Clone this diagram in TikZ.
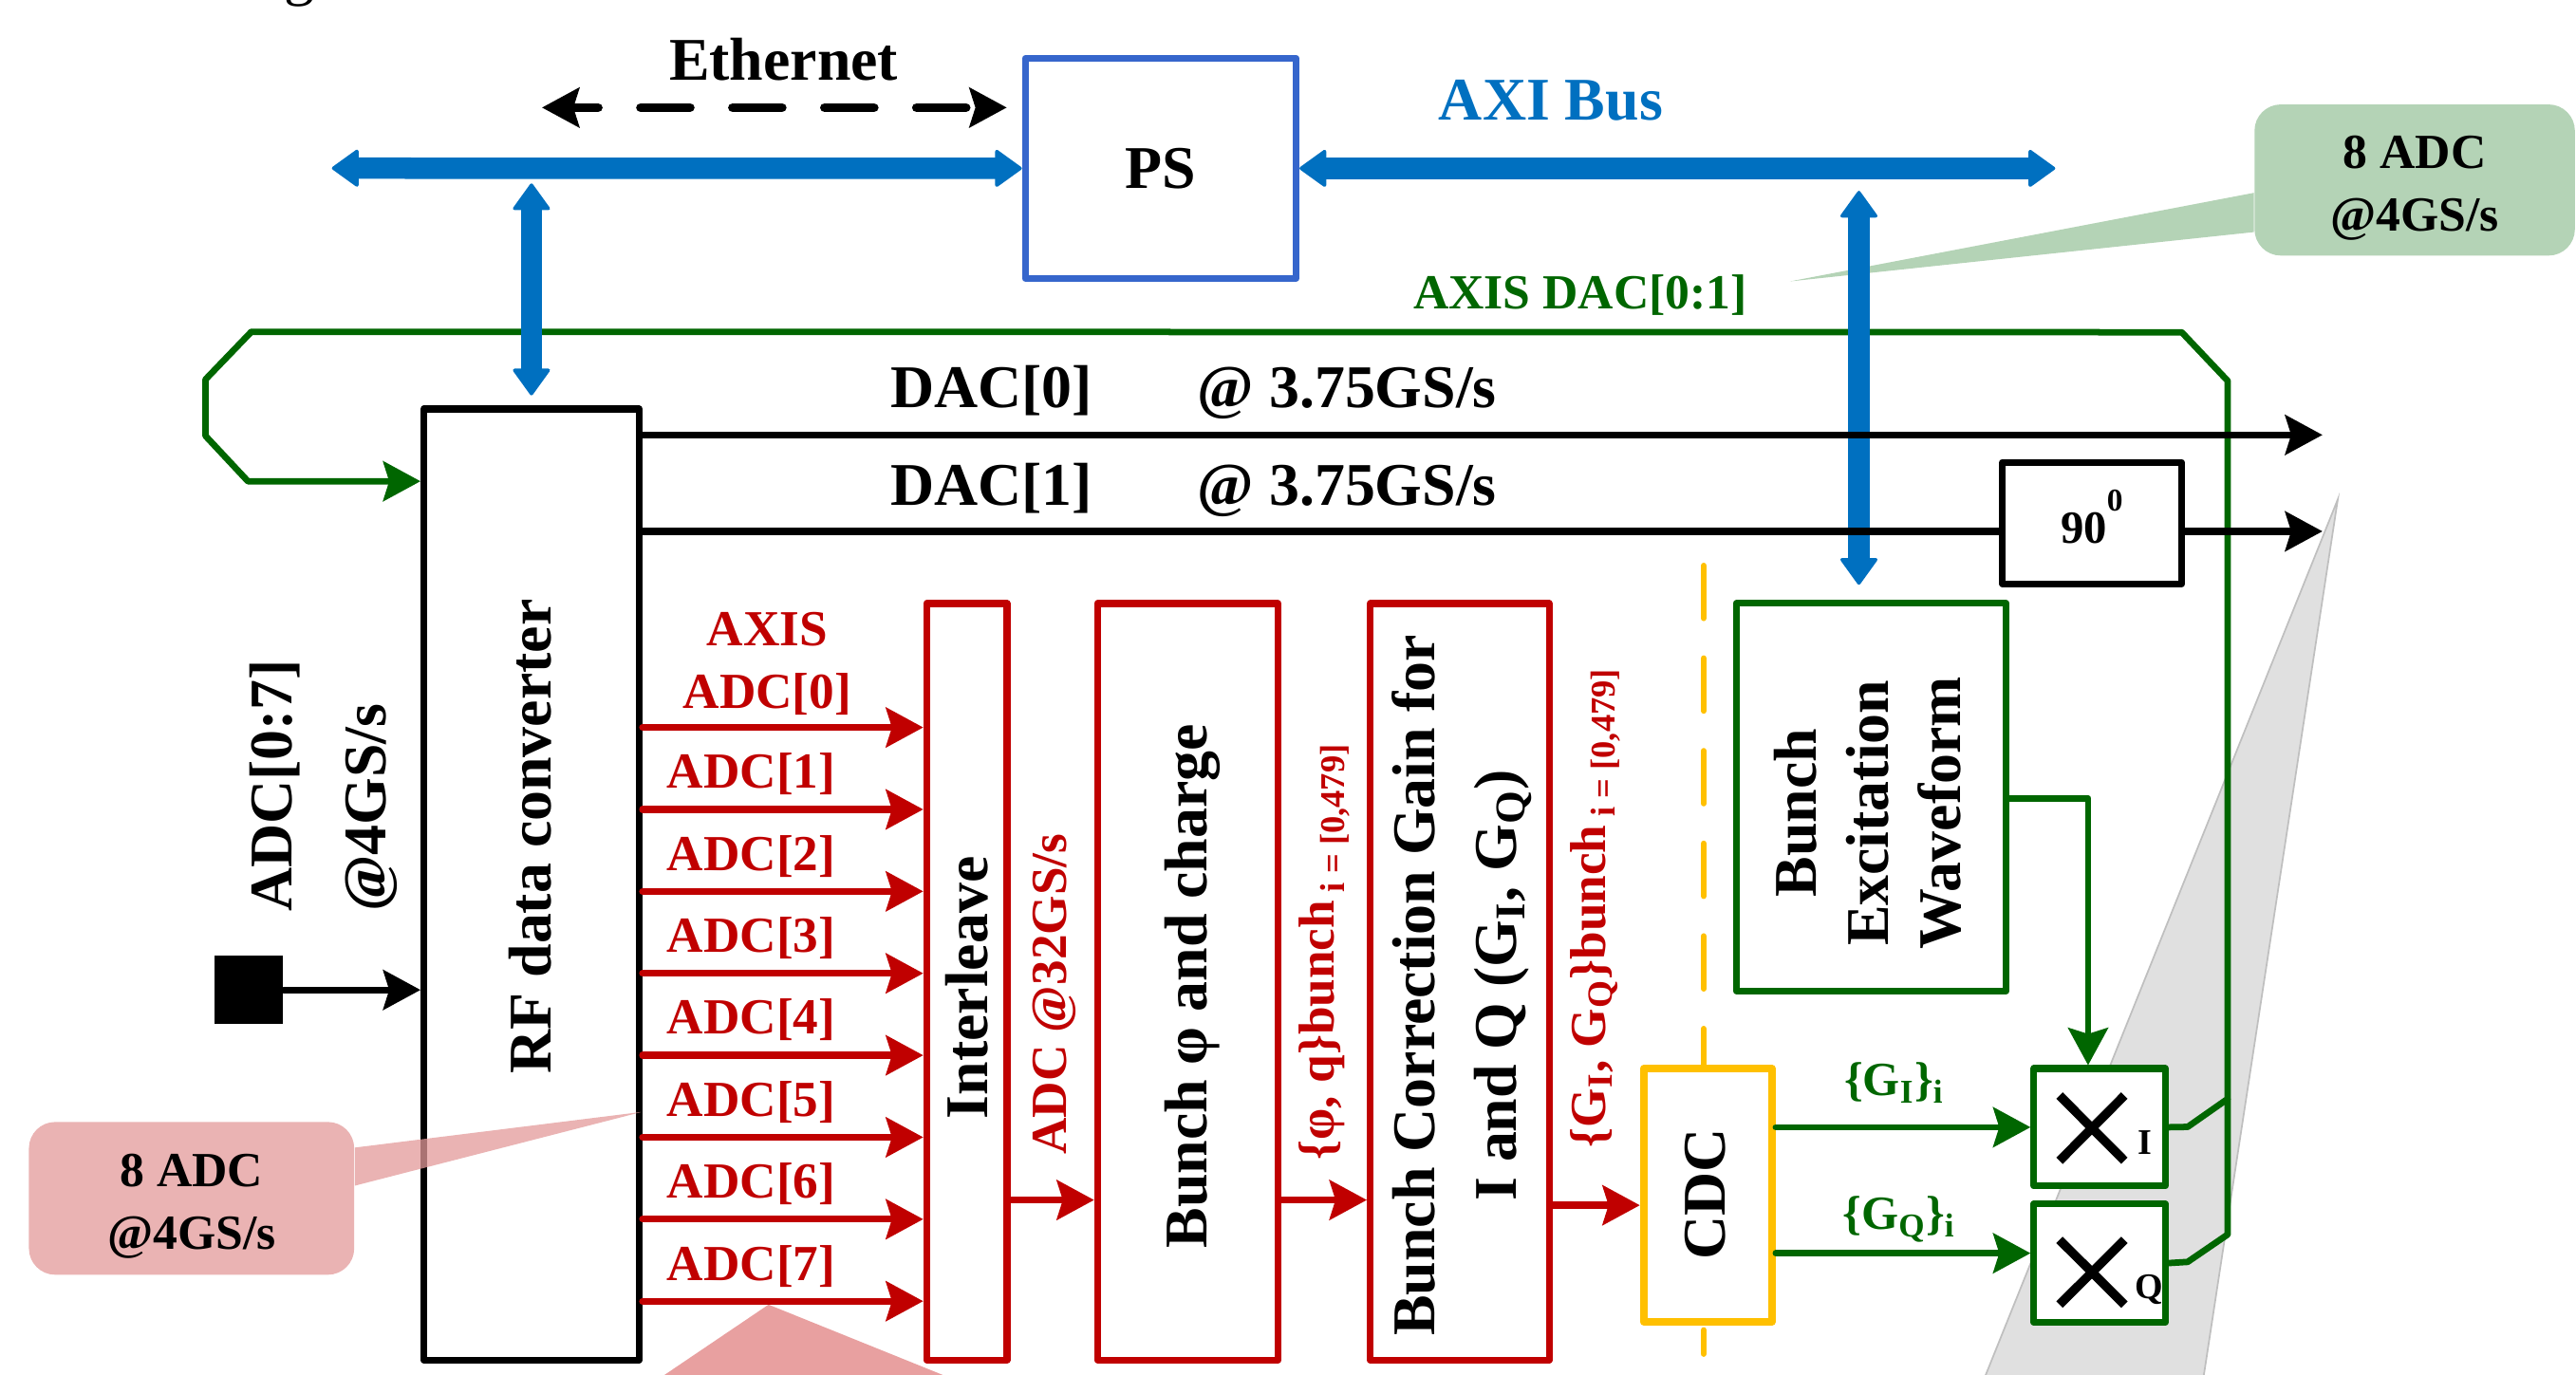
\documentclass[tikz,border=0pt]{standalone}
\usepackage{fontspec}
\setmainfont{Liberation Serif}
\usetikzlibrary{arrows.meta,calc}
\newlength\pxl
\setlength\pxl{0.02cm}
\newcommand\fsz[2]{\fontsize{#1}{#2}\selectfont}
\definecolor{redc}{RGB}{192,0,0}
\definecolor{grnc}{RGB}{0,102,0}
\definecolor{busc}{RGB}{0,112,192}
\definecolor{psc}{RGB}{54,102,204}
\definecolor{ylwc}{RGB}{255,192,0}
\definecolor{gcallc}{RGB}{180,211,182}
\definecolor{pcallc}{RGB}{234,179,179}
\definecolor{pptrc}{RGB}{227,154,154}
\definecolor{ptric}{RGB}{232,160,160}
\definecolor{grayf}{RGB}{224,224,224}
\definecolor{grayd}{RGB}{191,191,191}
\tikzset{
  txt/.style={inner sep=0pt, font=\bfseries\fsz{21}{25}},
  rtxt/.style={inner sep=0pt, text=redc, font=\bfseries\fsz{17.5}{21}},
  gtxt/.style={inner sep=0pt, text=grnc, font=\bfseries\fsz{16.5}{20}},
  rot/.style={rotate=90},
  blkbox/.style={draw=black, line width=4.2\pxl, fill=white, inner sep=0pt, line join=round},
  redbox/.style={blkbox, draw=redc},
  grnbox/.style={blkbox, draw=grnc},
  ylwbox/.style={blkbox, draw=ylwc, line width=4.8\pxl},
  psbox/.style={blkbox, draw=psc, line width=4\pxl},
  arr/.style={line width=4.2\pxl, line cap=round, -{Stealth[length=0.46cm,width=0.5cm,inset=0.08cm,line width=0pt]}},
  rarr/.style={arr, draw=redc},
  garr/.style={arr, draw=grnc, line width=3.9\pxl, line join=round},
  gline/.style={draw=grnc, line width=3.9\pxl, line join=round},
  barr/.style={arr, draw=black},
  bus/.style={draw=busc, line width=13\pxl, {Triangle[length=0.34cm,width=0.48cm,round,line width=0.04cm]}-{Triangle[length=0.34cm,width=0.48cm,round,line width=0.04cm]}},
  etharr/.style={draw=black, line width=5.6\pxl, line cap=round, dash pattern=on 0.6cm off 0.52cm, dash phase=0.3cm, {Stealth[length=0.46cm,width=0.5cm,inset=0.08cm,line width=0pt]}-{Stealth[length=0.46cm,width=0.5cm,inset=0.08cm,line width=0pt]}},
  ydash/.style={draw=ylwc, line width=3.6\pxl, line cap=round, dash pattern=on 0.64cm off 0.488cm},
  xmark/.style={draw=black, line width=5.5\pxl},
  callout/.style={inner sep=0pt, rounded corners=0.32cm},
  ctext/.style={inner sep=0pt, align=center, font=\bfseries\fsz{17}{21.8}},
}
\newcommand\subidx{\raisebox{-3.5pt}{\fsz{12}{14}i = [0,479]}}
\begin{document}
\begin{tikzpicture}[x=0.02cm, y=-0.02cm]
\useasboundingbox (0,0) rectangle (1568,837);
% background callout pointers
\fill[grayf, draw=grayd, line width=1\pxl] (1423,304) -- (1203.5,850) -- (1339.5,850) -- cycle;
\fill[ptric] (467.8,794.3) -- (385.4,850) -- (605.8,850) -- cycle;
\node[font=\fsz{21}{25}, anchor=base, inner sep=0pt] (gfrag) at (182,-3.8) {g};
% green callout
\node[callout, fill=gcallc, minimum width=195\pxl, minimum height=92\pxl] (gc) at (1469.8,109.6) {};
\fill[gcallc] (gc.west |- 0,117.4) -- (1089.6,171.3) -- (gc.west |- 0,141.3) -- cycle;
\node[ctext] (gcT) at (1469.8,114.5) {8 ADC\\@4GS/s};
% boxes
\node[psbox, minimum width=165\pxl, minimum height=134\pxl, font=\bfseries\fsz{21}{25}] (ps) at (706.5,102.5) {PS};
\node[blkbox, minimum width=131\pxl, minimum height=579\pxl] (rf) at (323.5,538.5) {};
\node[redbox, minimum width=49\pxl, minimum height=460.5\pxl] (il) at (588.5,597.75) {};
\node[redbox, minimum width=110\pxl, minimum height=460.5\pxl] (bq) at (723,597.75) {};
\node[redbox, minimum width=109\pxl, minimum height=460.5\pxl] (bc) at (888.5,597.75) {};
\node[ylwbox, minimum width=78\pxl, minimum height=154\pxl] (cdc) at (1039.5,727.65) {};
\node[grnbox, minimum width=164\pxl, minimum height=236\pxl] (ex) at (1139,485.35) {};
\node[grnbox, minimum width=80\pxl, minimum height=71.4\pxl] (mi) at (1278,686.3) {};
\node[grnbox, minimum width=80\pxl, minimum height=72\pxl] (mq) at (1278,769) {};
\node[blkbox, minimum width=109\pxl, minimum height=74\pxl] (p90) at (1273.4,318.5) {};
\node[fill=black, minimum width=41.6\pxl, minimum height=41.4\pxl, inner sep=0pt] (sq) at (151.6,602.7) {};
% yellow dashed clock-domain line
\coordinate (ydTop) at (1037,344.4);
\coordinate (ydB1) at (1037,809.8);
\coordinate (ydB2) at (1037,824.3);
\draw[ydash] (ydTop) -- (ydTop |- cdc.north);
\draw[draw=ylwc, line width=3.6\pxl, line cap=round] (ydB1) -- (ydB2);
% green DAC loop
\draw[garr] (mi.east) -- (1331.6,686.1) -- (1356,669) -- (1356,231.9) -- (1328,202.3) -- (153,202) -- (125.1,231) -- (125.1,265.4) -- (150.9,293) -- (rf.west |- 0,293);
\draw[gline] (mq.east) -- (1331.6,768.3) -- (1356,751.6) -- (1356,669);
% buses
\coordinate (busL) at (202,102.4);
\coordinate (busR) at (1251,102.5);
\coordinate (vbT1) at (323.5,111.7);
\coordinate (vbB1) at (323.5,240.7);
\coordinate (vbT2) at (1131.5,116.2);
\coordinate (vbB2) at (1131.5,356);
\draw[bus] (busL) -- (ps.west);
\draw[bus] (ps.east) -- (busR);
\draw[bus] (vbT1) -- (vbB1);
\draw[bus] (vbT2) -- (vbB2);
% ethernet
\coordinate (ethL) at (330,65.5);
\coordinate (ethR) at (612.7,65.5);
\draw[etharr] (ethL) -- (ethR);
% DAC outputs
\coordinate (dac0end) at (1413.6,264.8);
\coordinate (dac1end) at (1413.6,323.5);
\draw[barr] (rf.east |- dac0end) -- (dac0end);
\draw[line width=4.2\pxl, draw=black] (rf.east |- dac1end) -- (p90.west |- dac1end);
\draw[barr] (p90.east |- dac1end) -- (dac1end);
% ADC input
\draw[barr] (sq.east) -- (rf.west |- sq.east);
% red ADC arrows
\foreach \i in {0,...,7}{
  \pgfmathsetmacro\yy{442.9+49.9*\i}
  \draw[rarr] (rf.east |- 0,\yy) -- (il.west |- 0,\yy);
}
\draw[rarr] (il.east |- 0,730.6) -- (bq.west |- 0,730.6);
\draw[rarr] (bq.east |- 0,730.6) -- (bc.west |- 0,730.6);
\draw[rarr] (bc.east |- 0,733.8) -- (cdc.west |- 0,733.8);
% green arrows
\draw[garr] (cdc.east |- mi.west) -- (mi.west);
\draw[garr] (cdc.east |- 0,763) -- (mq.west |- 0,763);
\draw[garr] (ex.east |- 0,486) -| (mi.north -| 1271,0);
% multiplier marks
\draw[xmark] ($(mi.center)+(-24.4,-19.3)$) -- ($(mi.center)+(15.1,20.4)$);
\draw[xmark] ($(mi.center)+(-24.4,20.4)$) -- ($(mi.center)+(15.1,-19.3)$);
\draw[xmark] ($(mq.center)+(-24.4,-14.1)$) -- ($(mq.center)+(15.1,25.3)$);
\draw[xmark] ($(mq.center)+(-24.4,25.3)$) -- ($(mq.center)+(15.1,-14.1)$);
\node[inner sep=0pt, font=\bfseries\fsz{12.5}{14}, anchor=base] (iT) at (1305.6,702.9) {I};
\node[inner sep=0pt, font=\bfseries\fsz{12.5}{14}, anchor=base] (qT) at (1308,790.9) {Q};
% labels
\node[inner sep=0pt, font=\bfseries\fsz{16}{20}, anchor=base] (p90T) at (1273.3,331) {90\raisebox{11.4pt}{\fsz{11}{13}0}};
\node[txt, anchor=base] (eth) at (477,49) {Ethernet};
\node[txt, anchor=base, text=busc] (axi) at (944,73) {AXI Bus};
\node[gtxt, font=\bfseries\fsz{17}{20}, anchor=base] (axisdac) at (962,188) {AXIS DAC[0:1]};
\node[txt, anchor=base] (dac0) at (603.4,248.4) {DAC[0]};
\node[txt, anchor=base] (rate0) at (820,248.4) {@ 3.75GS/s};
\node[txt, anchor=base] (dac1) at (603.4,307.7) {DAC[1]};
\node[txt, anchor=base] (rate1) at (820,307.7) {@ 3.75GS/s};
\node[txt, rot, align=left, font=\bfseries\fsz{21}{32.4}] (adcin) at (197,478.3) {ADC[0:7]\\@4GS/s};
\node[txt, rot] (rfT) at (323,509.3) {RF data converter};
\node[rtxt, anchor=base] (axisT) at (467,393) {AXIS};
\node[rtxt, anchor=base] (adc0) at (467,431.5) {ADC[0]};
\foreach \i in {1,...,7}{
  \pgfmathsetmacro\yb{442.9+49.9*\i-12.8}
  \node[rtxt, anchor=base] (adc\i) at (457.3,\yb) {ADC[\i]};
}
\node[txt, rot] (ilT) at (588.6,601.3) {Interleave};
\node[rtxt, rot] (adc32) at (641.7,605.3) {ADC @32GS/s};
\node[txt, rot] (bqT) at (725.6,600.4) {Bunch φ and charge};
\node[rtxt, rot] (phiq) at (806,579.7) {\{φ, q\}bunch\,\subidx};
\node[txt, rot, align=center, font=\bfseries\fsz{21}{28.3}] (bcT) at (889.7,600) {Bunch Correction Gain for\\I and Q (G\textsubscript{I}, G\textsubscript{Q})};
\node[rtxt, rot] (gigq) at (971,553) {\{G\textsubscript{I}, G\textsubscript{Q}\}bunch\,\subidx};
\node[txt, rot] (cdcT) at (1038,727) {CDC};
\node[txt, rot, align=center, font=\bfseries\fsz{21}{25}] (exT) at (1137,495) {Bunch\\Excitation\\Waveform};
\node[gtxt, anchor=base] (giT) at (1153,667) {\{G\textsubscript{I}\}\textsubscript{i}};
\node[gtxt, anchor=base] (gqT) at (1156,748.4) {\{G\textsubscript{Q}\}\textsubscript{i}};
% pink callout on top
\node[callout, fill=pcallc, minimum width=198\pxl, minimum height=93\pxl] (pc) at (116.6,729.6) {};
\fill[pptrc, fill opacity=0.75] (pc.east |- 0,698.7) -- (390.6,677) -- (pc.east |- 0,721.9) -- cycle;
\node[ctext] (pcT) at (116.6,734.5) {8 ADC\\@4GS/s};
\end{tikzpicture}
\end{document}
